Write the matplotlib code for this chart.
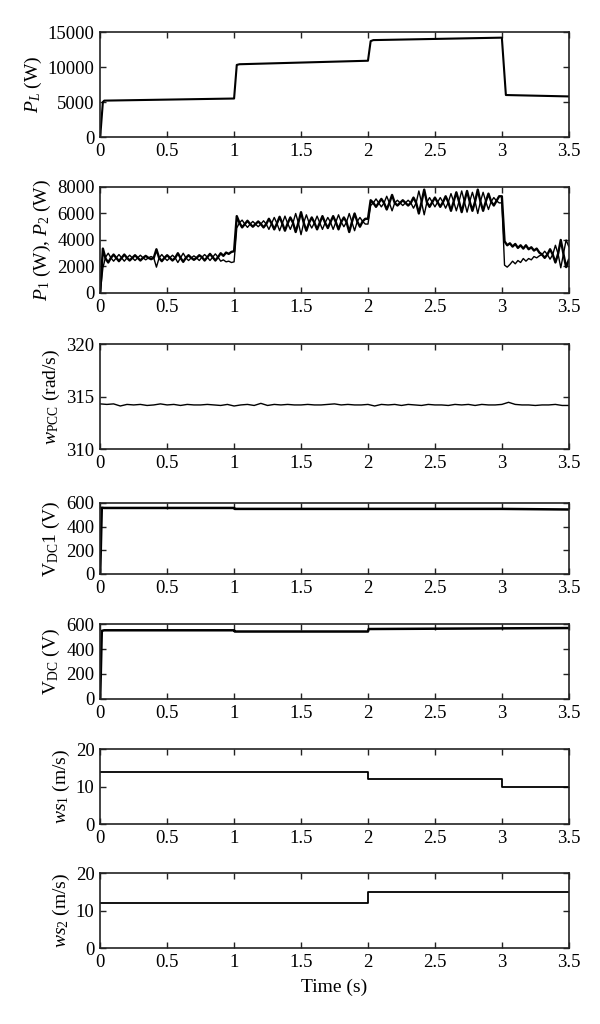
import numpy as np
import matplotlib
matplotlib.use("Agg")
import matplotlib.pyplot as plt

plt.rcParams['font.family'] = ['Liberation Serif', 'DejaVu Serif']
plt.rcParams['mathtext.fontset'] = 'custom'
plt.rcParams['mathtext.rm'] = 'Liberation Serif'
plt.rcParams['mathtext.it'] = 'Liberation Serif:italic'
plt.rcParams['mathtext.bf'] = 'Liberation Serif:bold'

# ---------------- data ----------------
x_ticks = [0, 0.5, 1, 1.5, 2, 2.5, 3, 3.5]
x_ticklabels = ['0', '0.5', '1', '1.5', '2', '2.5', '3', '3.5']

t_PL = [0, 0.02, 0.03, 1.0, 1.02, 1.04, 2.0, 2.02, 2.04, 3.0, 3.03, 3.5]
PL = [0, 5000, 5200, 5500, 10300, 10400, 10900, 13700, 13850, 14200, 6000, 5800]

dt_P = 0.02
P1 = [0, 3350, 2600, 2300, 2650, 2900, 2650, 2400, 2650, 2900,
      2650, 2450, 2650, 2850, 2650, 2450, 2650, 2800, 2650, 2550,
      2650, 3300, 2650, 2400, 2650, 2850, 2650, 2450, 2650, 3000,
      2650, 2350, 2650, 2850, 2650, 2500, 2650, 2850, 2700, 2450,
      2700, 2950, 2700, 2450, 2700, 3000, 2800, 3050, 2950, 3100,
      3150,
      5800, 5300, 4950, 5200, 5450, 5200, 5000, 5200, 5400, 5200,
      4950, 5200, 5600, 5250, 4800, 5250, 5750, 5250, 4700, 5250,
      5700, 5300, 4600, 5300, 6100, 5300, 4700, 5300, 5700, 5300,
      4800, 5300, 5800, 5300, 4900, 5350, 5800, 5350, 4800, 5350,
      5700, 5350, 4600, 5350, 6000, 5400, 5000, 5400, 5600, 5600,
      7000, 6800, 6500, 6800, 7100, 6800, 6300, 6800, 7400, 6800,
      6600, 6800, 7000, 6800, 6600, 6800, 7200, 6800, 6000, 6850,
      7800, 6850, 6500, 6850, 7200, 6850, 6500, 6850, 7300, 6850,
      6200, 6900, 7600, 6900, 6100, 6900, 7700, 6900, 6200, 6900,
      7800, 6900, 6200, 6900, 7500, 6900, 6600, 6950, 7300, 7300,
      3900, 3600, 3750, 3500, 3700, 3400, 3600, 3350, 3600, 3300,
      3450, 3200, 3350, 3050, 2900, 2650, 2900, 3300, 2900, 2300,
      2950, 4000, 2950, 1950, 2500]
P2 = [0, 1900, 2700, 3000, 2650, 2400, 2650, 2900, 2650, 2400,
      2650, 2850, 2650, 2450, 2650, 2850, 2650, 2500, 2650, 2750,
      2650, 1950, 2650, 2900, 2650, 2450, 2650, 2850, 2650, 2300,
      2650, 3000, 2650, 2450, 2650, 2800, 2650, 2450, 2700, 2900,
      2700, 2450, 2700, 2950, 2700, 2400, 2500, 2350, 2400, 2300,
      2350,
      4900, 5300, 5500, 5200, 4950, 5200, 5400, 5200, 5000, 5200,
      5450, 5200, 4800, 5250, 5700, 5250, 4700, 5250, 5800, 5250,
      4800, 5300, 6000, 5300, 4400, 5300, 5900, 5300, 4900, 5300,
      5800, 5300, 4800, 5300, 5700, 5350, 4800, 5350, 5900, 5350,
      5000, 5350, 6000, 5350, 4700, 5400, 5700, 5400, 5200, 5200,
      6600, 6800, 7100, 6800, 6500, 6800, 7300, 6800, 6200, 6800,
      7000, 6800, 6600, 6800, 7000, 6800, 6400, 6800, 7700, 6850,
      5900, 6850, 7200, 6850, 6500, 6850, 7200, 6850, 6400, 6850,
      7500, 6900, 6200, 6900, 7700, 6900, 6100, 6900, 7600, 6900,
      6000, 6900, 7600, 6900, 6300, 6900, 7200, 6950, 6800, 6800,
      2100, 1950, 2150, 2400, 2200, 2450, 2300, 2600, 2400, 2600,
      2500, 2750, 2650, 2800, 2900, 3150, 2900, 2550, 2900, 3600,
      2950, 1900, 2950, 4000, 3500]

dt_w = 0.05
wPCC = [314.3, 314.25, 314.3, 314.1, 314.25, 314.2, 314.25, 314.15, 314.2, 314.3,
        314.2, 314.25, 314.15, 314.25, 314.2, 314.2, 314.25, 314.2, 314.15, 314.25,
        314.1, 314.2, 314.25, 314.15, 314.35, 314.15, 314.25, 314.2, 314.25, 314.2,
        314.2, 314.25, 314.2, 314.2, 314.25, 314.3, 314.2, 314.25, 314.2, 314.2,
        314.25, 314.1, 314.25, 314.2, 314.25, 314.15, 314.25, 314.2, 314.15, 314.25,
        314.2, 314.2, 314.15, 314.25, 314.2, 314.25, 314.15, 314.25, 314.2, 314.2,
        314.25, 314.45, 314.25, 314.2, 314.2, 314.15, 314.2, 314.2, 314.25, 314.15,
        314.15]

t_V1 = [0, 0.012, 0.03, 1.0, 1.005, 2.0, 3.0, 3.5]
VDC1 = [0, 560, 558, 558, 550, 550, 550, 545]

t_V = [0, 0.012, 0.03, 1.0, 1.005, 2.0, 2.005, 3.5]
VDC = [0, 545, 550, 550, 540, 540, 560, 568]

t_ws1 = [0, 2, 2, 3, 3, 3.5]
ws1 = [14, 14, 12, 12, 10, 10]

t_ws2 = [0, 2, 2, 3.5]
ws2 = [12, 12, 15, 15]

# ---------------- figure ----------------
fig = plt.figure(figsize=(6, 10.24), dpi=100)

L, W = 0.167, 0.781
rects = [
    (0.8662, 0.1025),
    (0.7139, 0.1035),
    (0.5615, 0.1025),
    (0.4395, 0.0693),
    (0.3174, 0.0732),
    (0.1953, 0.0732),
    (0.0742, 0.0732),
]
axes = [fig.add_axes([L, b, W, h]) for b, h in rects]

FS = 13.5
LFS = 14

def style(ax, yticks, ylim, ylabel):
    ax.set_xlim(0, 3.5)
    ax.set_ylim(*ylim)
    ax.set_xticks(x_ticks)
    ax.set_xticklabels(x_ticklabels)
    ax.set_yticks(yticks)
    ax.set_yticklabels([str(v) for v in yticks])
    ax.tick_params(direction='in', top=True, right=True, length=4, width=1.0,
                   labelsize=FS, pad=4, color='#222222')
    for s in ax.spines.values():
        s.set_linewidth(1.2)
        s.set_color('#222222')
    ax.set_ylabel(ylabel, fontsize=LFS, labelpad=3)

t_P = np.arange(len(P1)) * dt_P
t_w = np.arange(len(wPCC)) * dt_w

axes[0].plot(t_PL, PL, color='black', lw=1.5)
style(axes[0], [0, 5000, 10000, 15000], (0, 15000), r'$P_L$ (W)')

axes[1].plot(t_P, P1, color='black', lw=1.7)
axes[1].plot(t_P, P2, color='black', lw=1.0)
style(axes[1], [0, 2000, 4000, 6000, 8000], (0, 8000), r'$P_1$ (W), $P_2$ (W)')

axes[2].plot(t_w, wPCC, color='black', lw=1.0)
style(axes[2], [310, 315, 320], (310, 320), r'$w_{\mathrm{PCC}}$ (rad/s)')

axes[3].plot(t_V1, VDC1, color='black', lw=1.8)
style(axes[3], [0, 200, 400, 600], (0, 600), r'V$_{\mathrm{DC}}$1 (V)')

axes[4].plot(t_V, VDC, color='black', lw=1.8)
style(axes[4], [0, 200, 400, 600], (0, 600), r'V$_{\mathrm{DC}}$ (V)')

axes[5].plot(t_ws1, ws1, color='black', lw=1.3)
style(axes[5], [0, 10, 20], (0, 20), r'$ws_1$ (m/s)')

axes[6].plot(t_ws2, ws2, color='black', lw=1.3)
style(axes[6], [0, 10, 20], (0, 20), r'$ws_2$ (m/s)')
axes[6].set_xlabel('Time (s)', fontsize=LFS, labelpad=6)

fig.savefig('out.png', dpi=100)
